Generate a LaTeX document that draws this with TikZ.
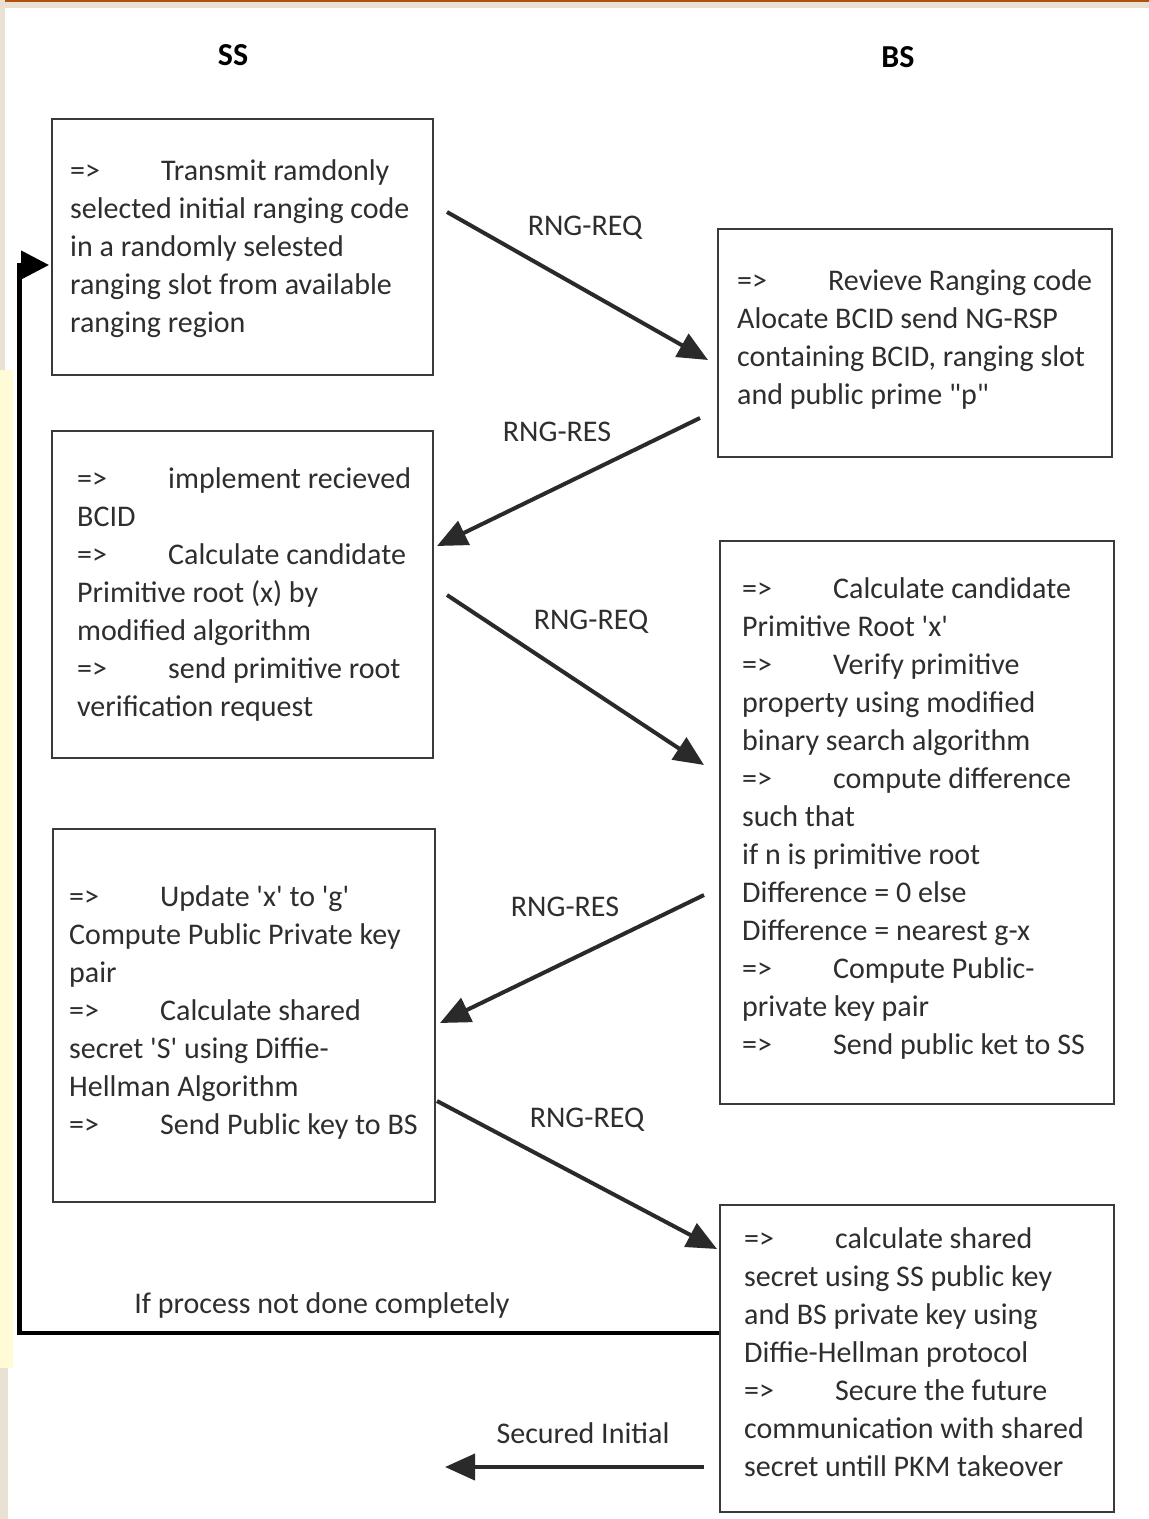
\documentclass[tikz,border=0pt]{standalone}
\usepackage{fontspec}
\setmainfont{Carlito}
\usetikzlibrary{arrows.meta}
\definecolor{txtc}{HTML}{2E2E2E}
\definecolor{boxc}{HTML}{3A3A3A}
\definecolor{arrc}{HTML}{2A2A2A}
\definecolor{beige}{HTML}{E9E1D3}
\definecolor{topc}{HTML}{B0500E}
\definecolor{yell}{HTML}{FFFBD6}
\newcommand\tabarrow{\makebox[91pt][l]{=>}}
\tikzset{
  box/.style={draw=boxc, line width=1.8pt, rectangle, inner sep=0pt, anchor=north west},
  txt/.style={text=txtc, align=left, inner sep=0pt, anchor=base west, font=\fontsize{30}{38}\selectfont},
  lbl/.style={text=txtc, inner sep=0pt, font=\fontsize{30}{38}\selectfont},
  ttl/.style={text=black, inner sep=0pt, font=\fontsize{32}{38}\selectfont\bfseries},
  msg/.style={draw=arrc, line width=4pt, -{Triangle[length=30pt,width=26pt]}},
}
\begin{document}
\begin{tikzpicture}[x=1pt,y=-1pt]
\useasboundingbox (0,0) rectangle (1149,1519);
% background artefacts
\fill[white] (0,0) rectangle (1149,1519);
\fill[beige] (0,0) rectangle (1149,8);
\fill[topc] (0,0) rectangle (1149,2);
\fill[beige] (0,0) rectangle (5,370);
\fill[yell] (0,370) rectangle (13,1368);
\fill[beige] (0,1368) rectangle (8,1519);

% titles
\node[ttl] (ss) at (233,55) {SS};
\node[ttl] (bs) at (898,57) {BS};

% boxes
\node[box, minimum width=381pt, minimum height=256pt] (b1) at (51,118) {};
\node[box, minimum width=394pt, minimum height=228pt] (b2) at (717,228) {};
\node[box, minimum width=381pt, minimum height=327pt] (b3) at (51,430) {};
\node[box, minimum width=394pt, minimum height=563pt] (b4) at (719,540) {};
\node[box, minimum width=382pt, minimum height=373pt] (b5) at (52,828) {};
\node[box, minimum width=394pt, minimum height=307pt] (b6) at (719,1204) {};

% texts (anchored at the baseline of the last line)
\node[txt] (t1) at (70,332) {\tabarrow Transmit ramdonly\\selected initial ranging code\\in a randomly selested\\ranging slot from available\\ranging region};
\node[txt] (t2) at (737,404) {\tabarrow Revieve Ranging code\\Alocate BCID send NG-RSP\\containing BCID, ranging slot\\and public prime \textquotedbl p\textquotedbl};
\node[txt] (t3) at (77,716) {\tabarrow implement recieved\\BCID\\\tabarrow Calculate candidate\\Primitive root (x) by\\modified algorithm\\\tabarrow send primitive root\\verification request};
\node[txt] (t4) at (742,1054) {\tabarrow Calculate candidate\\Primitive Root \textquotesingle x\textquotesingle\\\tabarrow Verify primitive\\property using modified\\binary search algorithm\\\tabarrow compute difference\\such that\\if n is primitive root\\Difference = 0 else\\Difference = nearest g-x\\\tabarrow Compute Public-\\private key pair\\\tabarrow Send public ket to SS};
\node[txt] (t5) at (69,1134) {\tabarrow Update \textquotesingle x\textquotesingle{} to \textquotesingle g\textquotesingle\\Compute Public Private key\\pair\\\tabarrow Calculate shared\\secret \textquotesingle S\textquotesingle{} using Diffie-\\Hellman Algorithm\\\tabarrow Send Public key to BS};
\node[txt] (t6) at (744,1476) {\tabarrow calculate shared\\secret using SS public key\\and BS private key using\\Diffie-Hellman protocol\\\tabarrow Secure the future\\communication with shared\\secret untill PKM takeover};

% connector end points
\coordinate (a1s) at (447,212);  \coordinate (a1e) at (708,360);
\coordinate (a2s) at (700,418);  \coordinate (a2e) at (437,546);
\coordinate (a3s) at (447,595);  \coordinate (a3e) at (704,765);
\coordinate (a4s) at (704,895);  \coordinate (a4e) at (440,1023);
\coordinate (a5s) at (437,1101); \coordinate (a5e) at (717,1249);
\coordinate (a6s) at (704,1467); \coordinate (a6e) at (445,1467);
\coordinate (fbs) at (b6.west |- 0,1333);
\coordinate (fb1) at (19.5,1333);
\coordinate (fb2) at (19.5,265);
\coordinate (fbe) at (49,265);

\draw[msg] (a1s) -- (a1e);
\draw[msg] (a2s) -- (a2e);
\draw[msg] (a3s) -- (a3e);
\draw[msg] (a4s) -- (a4e);
\draw[msg] (a5s) -- (a5e);
\draw[msg] (a6s) -- (a6e);
\draw[line width=4.5pt, draw=black, -{Triangle[length=28pt,width=28pt]}] (fbs) -- (fb1) -- (fb2) -- (fbe);

% labels
\node[lbl] (l1) at (585,228) {RNG-REQ};
\node[lbl] (l2) at (557,432) {RNG-RES};
\node[lbl] (l3) at (591,622) {RNG-REQ};
\node[lbl] (l4) at (565,907) {RNG-RES};
\node[lbl] (l5) at (587,1120) {RNG-REQ};
\node[lbl] (l6) at (583,1433) {Secured Initial};
\node[lbl] (l7) at (322,1305) {If process not done completely};
\end{tikzpicture}
\end{document}
